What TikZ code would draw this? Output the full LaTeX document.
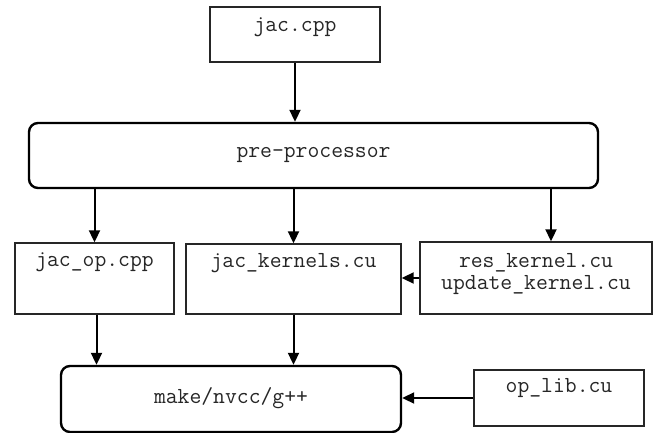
\documentclass[tikz,border=0pt]{standalone}
\usetikzlibrary{arrows.meta}
\tikzset{
  filebox/.style={draw=black!85, line width=1.4pt, rectangle, inner sep=0pt},
  toolbox/.style={draw=black, line width=2.4pt, rectangle, rounded corners=9pt, inner sep=0pt},
  label text/.style={inner sep=0pt, text=black!85, font=\ttfamily\fontsize{23}{22}\selectfont, align=center},
  flow/.style={draw=black, line width=2pt, -{Triangle[length=12pt,width=11pt]}}
}
\begin{document}
\begin{tikzpicture}[x=1pt, y=-1pt]
  \useasboundingbox (0,0) rectangle (653,433);

  % source file and pre-processor
  \node[filebox, minimum width=170pt, minimum height=55pt] (jac) at (295,34.5) {};
  \node[label text] (jactxt) at (295,27) {jac.cpp};
  \node[toolbox, minimum width=569pt, minimum height=65pt] (pre) at (313.5,155.5) {};
  \node[label text] (pretxt) at (313.5,155) {pre-processor};

  % generated files
  \node[filebox, minimum width=159pt, minimum height=71pt] (op) at (94.5,278.5) {};
  \node[label text] (optxt) at (94.5,262) {jac\_op.cpp};
  \node[filebox, minimum width=215pt, minimum height=70pt] (kern) at (293.5,279) {};
  \node[label text] (kerntxt) at (293.5,263) {jac\_kernels.cu};
  \node[filebox, minimum width=232pt, minimum height=72pt] (res) at (536,278) {};
  \node[label text, anchor=north] (restxt) at (536,253) {res\_kernel.cu\\update\_kernel.cu};

  % build step and library
  \node[toolbox, minimum width=340pt, minimum height=66pt] (make) at (231,399) {};
  \node[label text] (maketxt) at (231,398) {make/nvcc/g++};
  \node[filebox, minimum width=170pt, minimum height=56pt] (lib) at (559,398) {};
  \node[label text] (libtxt) at (559,388) {op\_lib.cu};

  % connectors
  \draw[flow] (jac.south) -- (pre.north -| jac.south);
  \draw[flow] (pre.south -| op.north) -- (op.north);
  \draw[flow] (pre.south -| kern.north) -- (kern.north);
  \draw[flow] ([xshift=15pt]res.north |- pre.south) -- ([xshift=15pt]res.north);
  \draw[flow] (res.west) -- (kern.east |- res.west);
  \draw[flow] ([xshift=2pt]op.south) -- ([xshift=2pt]op.south |- make.north);
  \draw[flow] (kern.south) -- (kern.south |- make.north);
  \draw[flow] (lib.west) -- (make.east |- lib.west);
\end{tikzpicture}
\end{document}
